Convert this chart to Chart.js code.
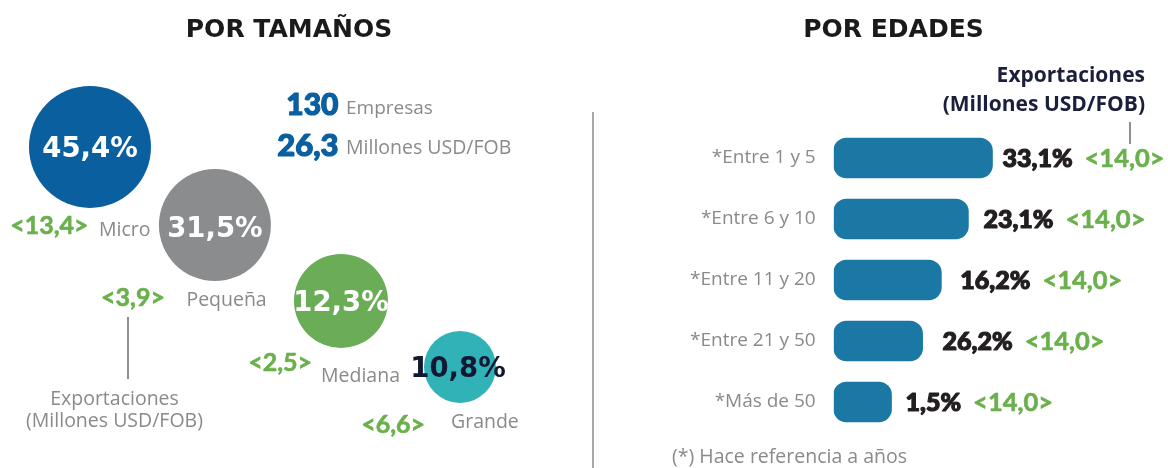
<!DOCTYPE html>
<html><head><meta charset="utf-8">
<script src="https://cdn.jsdelivr.net/npm/chart.js@4"></script>
<style>
html,body{margin:0;padding:0;background:#fff;}
#wrap{position:relative;width:1168px;height:468px;overflow:hidden;}
#left{position:absolute;left:0;top:0;width:592px;height:468px;}
#right{position:absolute;left:592px;top:0;width:576px;height:468px;}
</style></head><body>
<div id="wrap"><div id="left"><canvas id="c1"></canvas></div><div id="right"><canvas id="c2"></canvas></div></div>
<script>
// ---- Data: by size ----
const sizeNames = ['Micro', 'Pequeña', 'Mediana', 'Grande'];
const sizeShare = [45.4, 31.5, 12.3, 10.8];
const sizeExports = [13.4, 3.9, 2.5, 6.6];
const bubbleX = [1.52, 3.63, 5.76, 7.77];
const bubbleY = [6.86, 5.19, 3.57, 2.16];
const bubbleRadius = [61, 56, 47, 36];
const totalFirms = 130;
const totalExports = 26.3;

// ---- Data: by age ----
const ageLabels = ['*Entre 1 y 5', '*Entre 6 y 10', '*Entre 11 y 20', '*Entre 21 y 50', '*Más de 50'];
const ageShare = [33.1, 23.1, 16.2, 26.2, 1.5];
const ageExports = [14.0, 14.0, 14.0, 14.0, 14.0];
const ageBarLength = [47.5, 40.3, 32.2, 26.6, 17.3];

// ---- Styles ----
const bubbleColors = ['#0a5f9f', '#8b8c8e', '#6aad56', '#30b2b6'];
const pctColors = ['#ffffff', '#ffffff', '#ffffff', '#121733'];
const GREEN = '#6ab04c', GRAY = '#8a8a8c', BLUE = '#0a5fa0', NAVY = '#1b1f3b', BLACK = '#231f20';
const fmt = v => v.toFixed(1).replace('.', ',');

function txt(ctx, s, x, yc, font, size, color, align, capRatio, strokeW) {
  ctx.save();
  ctx.font = font.replace('SZ', size + 'px');
  ctx.fillStyle = color;
  ctx.textAlign = align || 'left';
  ctx.textBaseline = 'alphabetic';
  const y = yc + size * (capRatio || 0.36);
  ctx.fillText(s, x, y);
  if (strokeW) {
    ctx.strokeStyle = color; ctx.lineWidth = strokeW; ctx.lineJoin = 'round';
    ctx.strokeText(s, x, y);
  }
  const w = ctx.measureText(s).width;
  ctx.restore();
  return w;
}
const LATO_BLACK = '900 SZ Lato', LATO_BOLD = 'bold SZ Lato', OPEN = 'SZ "Open Sans"', OPEN_BOLD = 'bold SZ "Open Sans"', DJ = 'bold SZ "DejaVu Sans"';

// label offsets relative to bubble centres
const pctOffset = [[0, 0], [0, 2], [0, 0], [-2, 0]];
const expOffset = [[-1.5, 79], [-50, 72], [-29, 62], [-35, 58]];
const nameOffset = [[9, 82], [-28.5, 74], [-20, 74], [-9, 54]];

const leftLabels = {
  id: 'leftLabels',
  afterDatasetsDraw(chart) {
    const ctx = chart.ctx;
    txt(ctx, 'POR TAMAÑOS', 289, 28, DJ, 25, '#1a1a1a', 'center', 0.365);
    txt(ctx, String(totalFirms), 338.5, 104, LATO_BLACK, 30, BLUE, 'right', 0.36, 1.2);
    txt(ctx, 'Empresas', 346, 107, OPEN, 19, GRAY, 'left');
    txt(ctx, fmt(totalExports), 338.5, 145, LATO_BLACK, 31, BLUE, 'right', 0.36, 1.2);
    txt(ctx, 'Millones USD/FOB', 346, 146.5, OPEN, 19.5, GRAY, 'left');
    const meta = chart.getDatasetMeta(0);
    meta.data.forEach((el, i) => {
      const cx = el.x, cy = el.y;
      txt(ctx, fmt(sizeShare[i]) + '%', cx + pctOffset[i][0], cy + pctOffset[i][1], DJ, 27.5, pctColors[i], 'center', 0.365);
      txt(ctx, '<' + fmt(sizeExports[i]) + '>', cx + expOffset[i][0], cy + expOffset[i][1], LATO_BOLD, 25, GREEN, 'right', 0.34, 0.6);
      txt(ctx, sizeNames[i], cx + nameOffset[i][0], cy + nameOffset[i][1], OPEN, 19.5, GRAY, 'left');
    });
    ctx.save();
    ctx.strokeStyle = '#8f8f8f'; ctx.lineWidth = 2;
    ctx.beginPath(); ctx.moveTo(128, 317); ctx.lineTo(128, 379); ctx.stroke();
    ctx.restore();
    txt(ctx, 'Exportaciones', 114.5, 398, OPEN, 19.5, GRAY, 'center');
    txt(ctx, '(Millones USD/FOB)', 114.5, 420, OPEN, 19.5, GRAY, 'center');
  }
};

const pctGap = [10, 15, 19, 20, 14];
const rightLabels = {
  id: 'rightLabels',
  afterDatasetsDraw(chart) {
    const ctx = chart.ctx;
    ctx.save();
    ctx.strokeStyle = '#a8a8a8'; ctx.lineWidth = 2;
    ctx.beginPath(); ctx.moveTo(1, 112); ctx.lineTo(1, 468); ctx.stroke();
    ctx.strokeStyle = '#8f8f8f';
    ctx.beginPath(); ctx.moveTo(538, 122); ctx.lineTo(538, 144); ctx.stroke();
    ctx.restore();
    txt(ctx, 'POR EDADES', 301.5, 28, DJ, 25, '#1a1a1a', 'center', 0.365);
    txt(ctx, 'Exportaciones', 553, 74, OPEN_BOLD, 21, NAVY, 'right');
    txt(ctx, '(Millones USD/FOB)', 553, 103.5, OPEN_BOLD, 21, NAVY, 'right');
    const meta = chart.getDatasetMeta(0);
    meta.data.forEach((el, i) => {
      const x0 = el.x + pctGap[i];
      const w = txt(ctx, fmt(ageShare[i]) + '%', x0, el.y, LATO_BLACK, 25, BLACK, 'left', 0.36, 1.2);
      txt(ctx, '<' + fmt(ageExports[i]) + '>', x0 + w + 12, el.y, LATO_BOLD, 25.5, GREEN, 'left', 0.34, 0.6);
    });
    txt(ctx, '(*) Hace referencia a años', 80, 456, OPEN, 19.5, GRAY, 'left');
  }
};

new Chart(document.getElementById('c1'), {
  type: 'bubble',
  data: {
    datasets: [{
      data: sizeNames.map((n, i) => ({ x: bubbleX[i], y: bubbleY[i], r: bubbleRadius[i] })),
      backgroundColor: bubbleColors,
      borderWidth: 0,
      hoverRadius: 0,
      clip: false
    }]
  },
  options: {
    responsive: true, maintainAspectRatio: false, animation: false, events: [],
    layout: { padding: 0, autoPadding: false },
    plugins: { legend: { display: false }, tooltip: { enabled: false } },
    scales: {
      x: { type: 'linear', min: 0, max: 10, display: false },
      y: { type: 'linear', min: 0, max: 10, display: false }
    }
  },
  plugins: [leftLabels]
});

new Chart(document.getElementById('c2'), {
  type: 'bar',
  data: {
    labels: ageLabels,
    datasets: [{
      data: ageBarLength,
      backgroundColor: '#1b78a5',
      borderRadius: 13,
      borderSkipped: false,
      barThickness: 40
    }]
  },
  options: {
    indexAxis: 'y',
    responsive: true, maintainAspectRatio: false, animation: false, events: [],
    layout: { padding: { top: 127.5, bottom: 35.5, left: 0, right: 0 }, autoPadding: false },
    plugins: { legend: { display: false }, tooltip: { enabled: false } },
    scales: {
      x: { min: 0, max: 100, display: false },
      y: {
        grid: { display: false, drawTicks: false },
        border: { display: false },
        ticks: { color: GRAY, font: { family: 'Open Sans', size: 19 }, padding: 18 },
        afterFit: (s) => { s.width = 241.7; }
      }
    }
  },
  plugins: [rightLabels]
});
</script>
</body></html>
